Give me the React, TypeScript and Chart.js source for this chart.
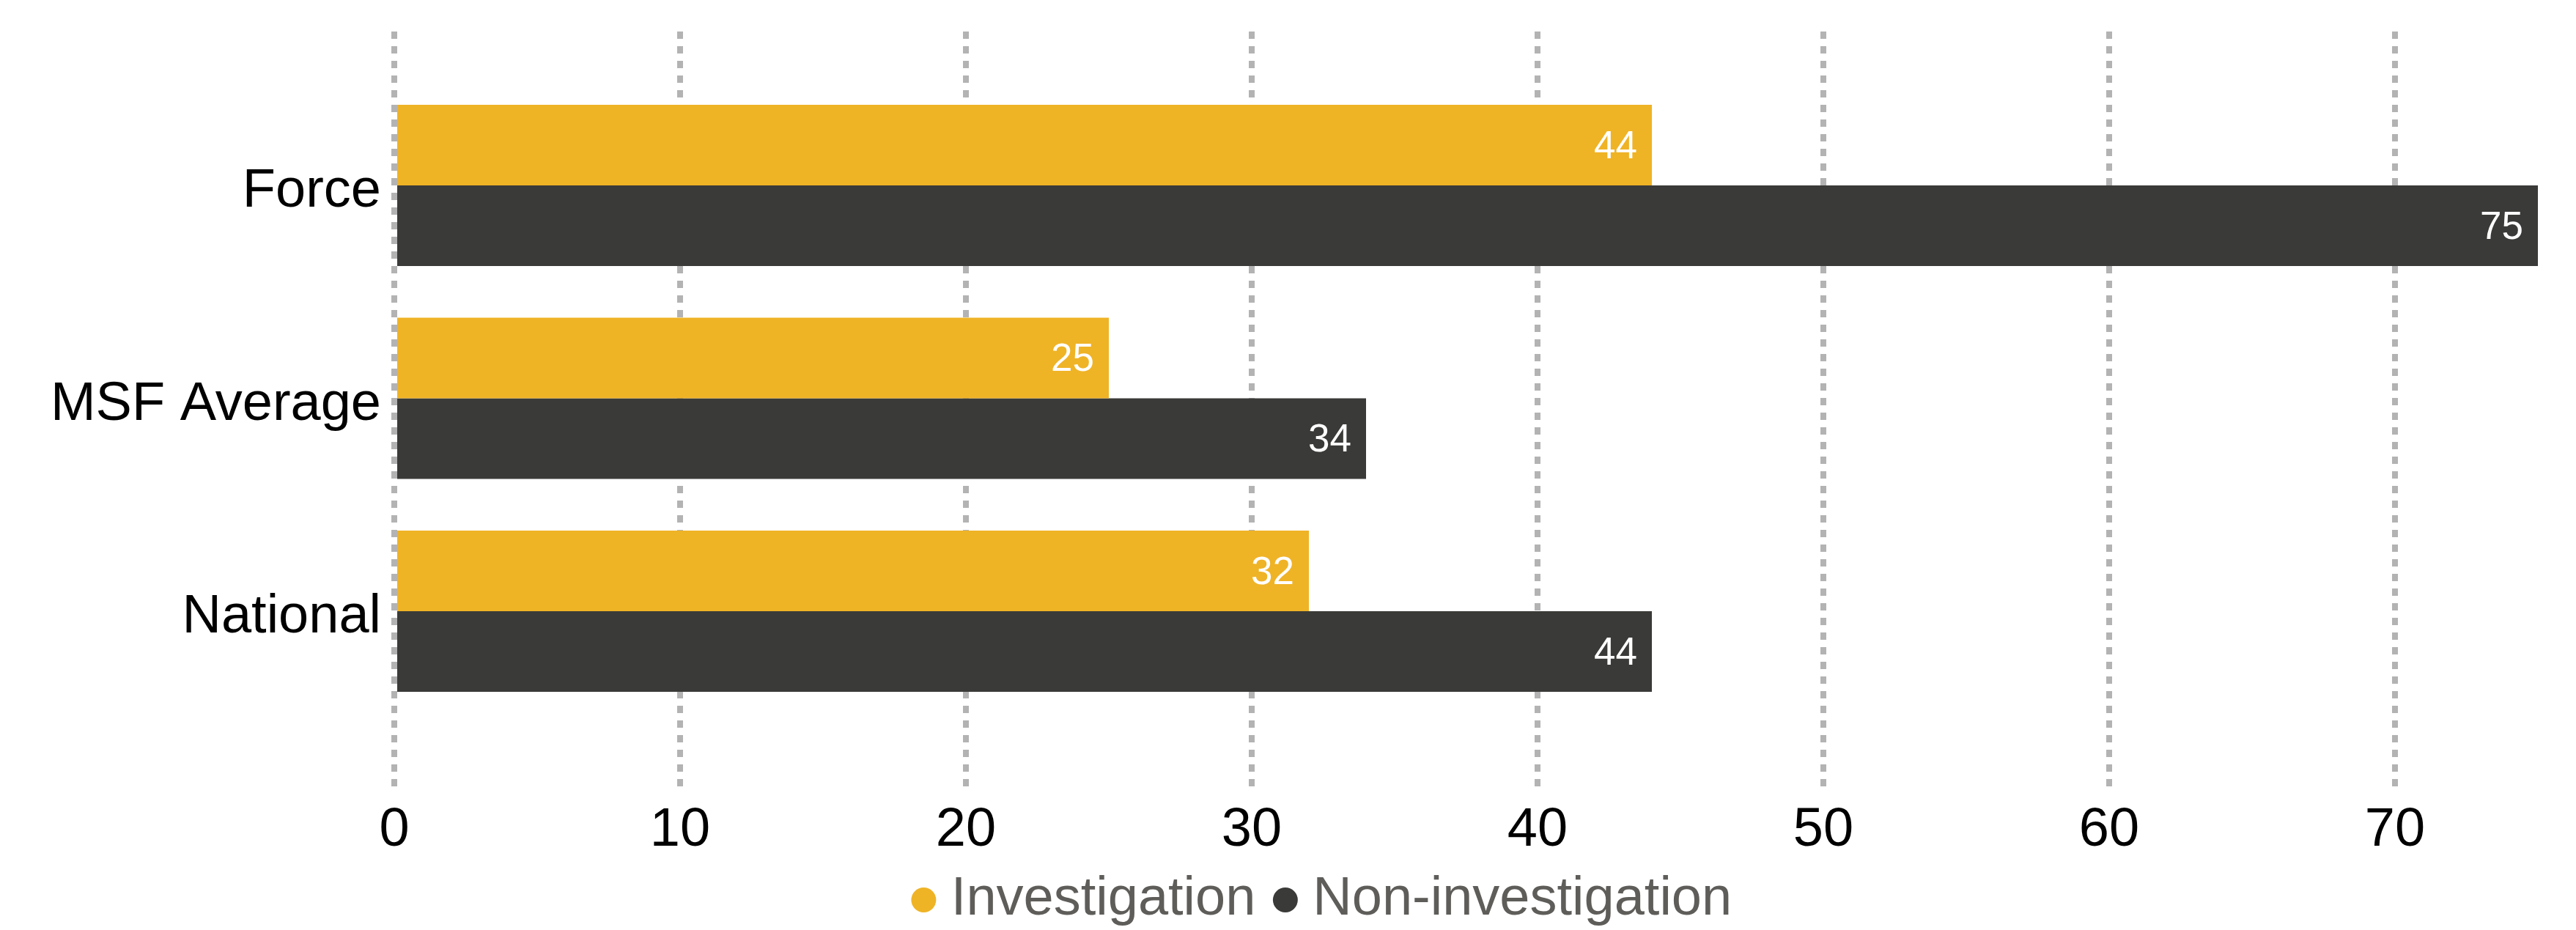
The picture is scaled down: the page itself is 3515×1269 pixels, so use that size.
import React, { useEffect, useRef } from "react";
import { Chart, registerables } from "chart.js";

Chart.register(...registerables);

const categories = ["Force", "MSF Average", "National"];
const seriesNames = ["Investigation", "Non-investigation"];
const investigation = [44, 25, 32];
const nonInvestigation = [75, 34, 44];
const xTickValues = [0, 10, 20, 30, 40, 50, 60, 70];
const xMin = 0;
const xMax = 75;

const FONT = "'Liberation Sans', Arial, Helvetica, sans-serif";
const YELLOW = "#EFB326";
const DARK = "#3A3B38";

const valueLabels = {
  id: "valueLabels",
  afterDatasetsDraw(chart: any) {
    const ctx = chart.ctx;
    ctx.save();
    ctx.font = `53px ${FONT}`;
    ctx.fillStyle = "#ffffff";
    ctx.textAlign = "right";
    ctx.textBaseline = "middle";
    chart.data.datasets.forEach((ds: any, i: number) => {
      const meta = chart.getDatasetMeta(i);
      meta.data.forEach((el: any, j: number) => {
        const v = ds.data[j].x;
        ctx.fillText(String(v), el.x - 20, el.y + 3);
      });
    });
    ctx.restore();
  },
};

const legendShift = {
  id: "legendShift",
  afterLayout(chart: any) {
    const lg = chart.legend;
    if (!lg) return;
    lg.top -= 32;
    lg.bottom -= 32;
    lg.left += 80;
    lg.right += 80;
  },
};

export default function App() {
  const ref = useRef<HTMLCanvasElement | null>(null);

  useEffect(() => {
    if (!ref.current) return;
    const toPoints = (arr: number[]) => arr.map((v, i) => ({ x: v, y: i }));
    const chart = new Chart(ref.current, {
      type: "bar",
      data: {
        datasets: [
          {
            label: seriesNames[0],
            data: toPoints(investigation),
            backgroundColor: YELLOW,
            borderWidth: 0,
          },
          {
            label: seriesNames[1],
            data: toPoints(nonInvestigation),
            backgroundColor: DARK,
            borderWidth: 0,
          },
        ],
      },
      options: {
        animation: false,
        responsive: true,
        maintainAspectRatio: false,
        devicePixelRatio: 1,
        indexAxis: "y",
        categoryPercentage: 0.757,
        barPercentage: 1,
        layout: { padding: { top: 43, left: 0, right: 52, bottom: -38 } },
        plugins: {
          tooltip: { enabled: false },
          legend: {
            position: "bottom",
            labels: {
              usePointStyle: true,
              pointStyle: "circle",
              boxWidth: 1,
              boxHeight: 24,
              padding: 40,
              color: "#5f5d5a",
              font: { family: FONT, size: 74 },
            },
          },
        },
        scales: {
          x: {
            type: "linear",
            position: "bottom",
            min: xMin,
            max: xMax,
            afterBuildTicks: (s: any) => {
              s.ticks = xTickValues.map((v) => ({ value: v }));
            },
            afterFit: (s: any) => {
              s.height = 110;
              s.paddingLeft = 0;
              s.paddingRight = 0;
            },
            grid: {
              color: "#b3b3b3",
              lineWidth: 8,
              drawTicks: false,
            },
            border: { display: false, dash: [10, 10] },
            ticks: {
              autoSkip: false,
              padding: 16,
              color: "#000000",
              font: { family: FONT, size: 74 },
            },
          },
          y: {
            type: "linear",
            reverse: true,
            offset: false,
            bounds: "data",
            min: -0.723,
            max: 2.823,
            afterBuildTicks: (s: any) => {
              s.ticks = categories.map((_, i) => ({ value: i }));
            },
            afterFit: (s: any) => {
              s.width = 538;
              s.paddingTop = 0;
              s.paddingBottom = 0;
            },
            grid: { display: false, drawTicks: false, offset: false },
            border: { display: false },
            ticks: {
              autoSkip: false,
              padding: 18,
              labelOffset: 9,
              color: "#000000",
              font: { family: FONT, size: 74 },
              callback: (v: any) => categories[v as number] ?? "",
            },
          },
        },
      } as any,
      plugins: [valueLabels, legendShift],
    });
    return () => chart.destroy();
  }, []);

  return (
    <div
      style={{
        position: "absolute",
        left: 0,
        top: 0,
        width: 3515,
        height: 1269,
        background: "#ffffff",
      }}
    >
      <canvas ref={ref} />
    </div>
  );
}
